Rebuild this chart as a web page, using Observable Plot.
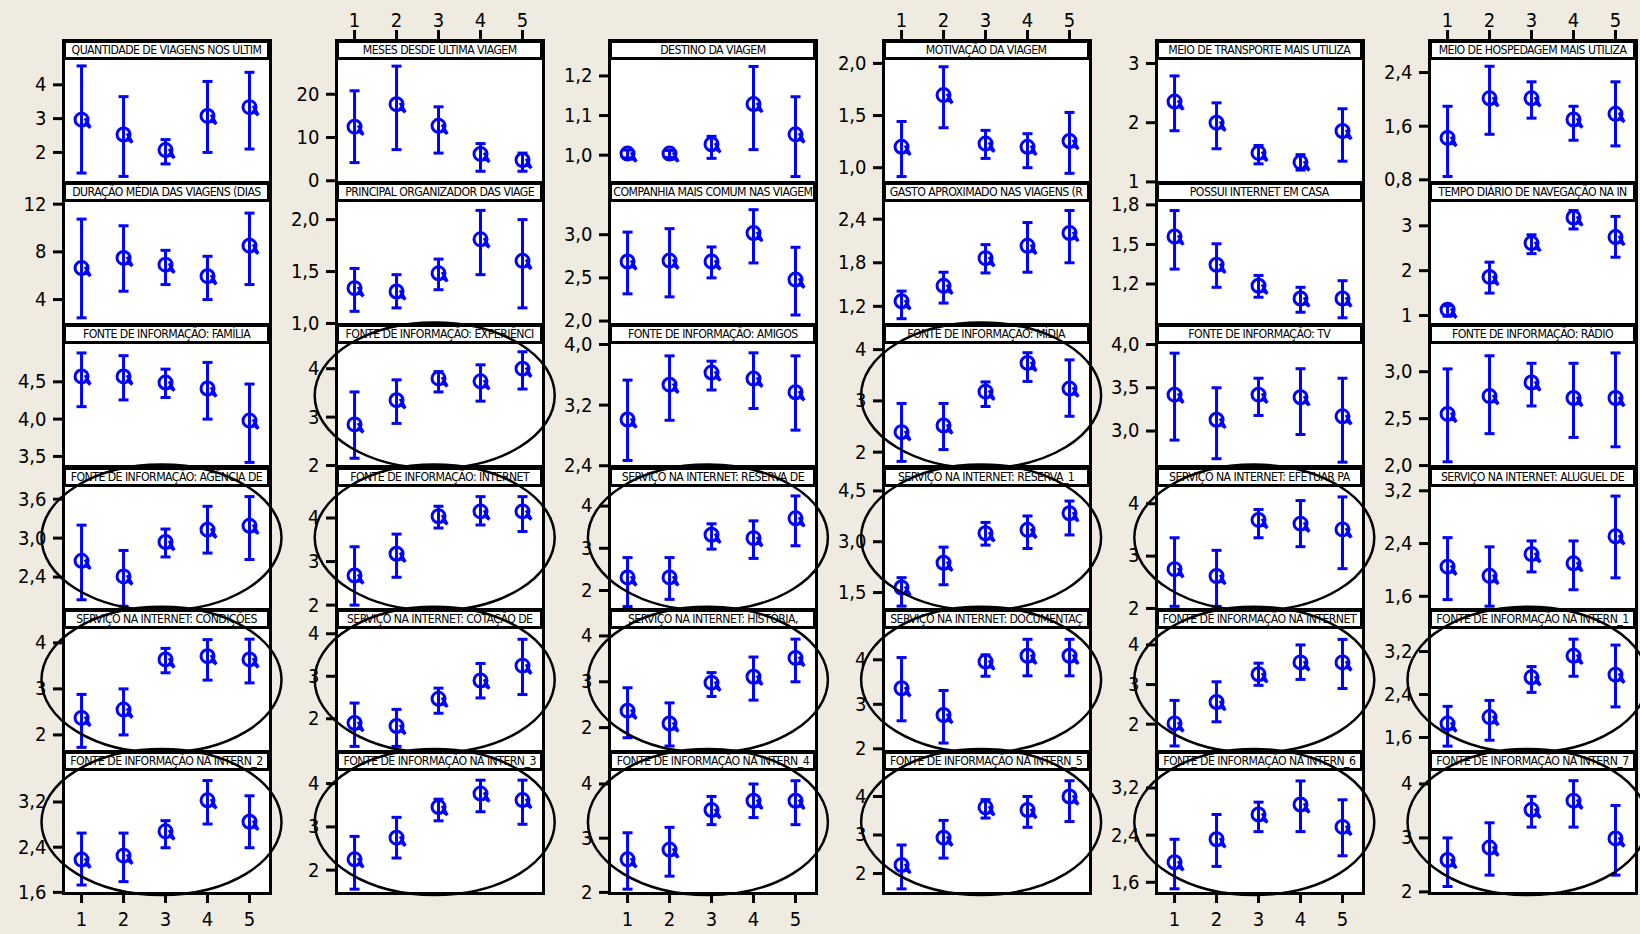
<!DOCTYPE html>
<html><head><meta charset="utf-8">
<script src="https://cdn.jsdelivr.net/npm/d3@7"></script>
<script src="https://cdn.jsdelivr.net/npm/@observablehq/plot@0.6"></script>
<style>
html,body{margin:0;padding:0;background:#efebe1;}
#chart{position:relative;width:1640px;height:934px;background:#efebe1;overflow:hidden;font-family:"DejaVu Sans Condensed","DejaVu Sans",sans-serif;font-stretch:condensed;}
#chart svg{position:absolute;}
.ttl{position:absolute;box-sizing:border-box;border:3px solid #000;background:#fff;display:flex;justify-content:center;align-items:center;overflow:hidden;white-space:nowrap;font-size:12.2px;letter-spacing:-0.55px;color:#000;}
.ttl span{flex:none;}
</style></head><body><div id="chart"></div><script>
const titles = [
 "QUANTIDADE DE VIAGENS NOS ÚLTIM","MESES DESDE ÚLTIMA VIAGEM","DESTINO DA VIAGEM","MOTIVAÇÃO DA VIAGEM","MEIO DE TRANSPORTE MAIS UTILIZA","MEIO DE HOSPEDAGEM MAIS UTILIZA",
 "DURAÇÃO MÉDIA DAS VIAGENS (DIAS","PRINCIPAL ORGANIZADOR DAS VIAGE","COMPANHIA MAIS COMUM NAS VIAGEM","GASTO APROXIMADO NAS VIAGENS (R","POSSUI INTERNET EM CASA","TEMPO DIÁRIO DE NAVEGAÇÃO NA IN",
 "FONTE DE INFORMAÇÃO: FAMÍLIA","FONTE DE INFORMAÇÃO: EXPERIÊNCI","FONTE DE INFORMAÇÃO: AMIGOS","FONTE DE INFORMAÇÃO: MÍDIA","FONTE DE INFORMAÇÃO: TV","FONTE DE INFORMAÇÃO: RÁDIO",
 "FONTE DE INFORMAÇÃO: AGÊNCIA DE","FONTE DE INFORMAÇÃO: INTERNET","SERVIÇO NA INTERNET: RESERVA DE","SERVIÇO NA INTERNET: RESERVA_1","SERVIÇO NA INTERNET: EFETUAR PA","SERVIÇO NA INTERNET: ALUGUEL DE",
 "SERVIÇO NA INTERNET: CONDIÇÕES","SERVIÇO NA INTERNET: COTAÇÃO DE","SERVIÇO NA INTERNET: HISTÓRIA,","SERVIÇO NA INTERNET: DOCUMENTAÇ","FONTE DE INFORMAÇÃO NA INTERNET","FONTE DE INFORMAÇÃO NA INTERN_1",
 "FONTE DE INFORMAÇÃO NA INTERN_2","FONTE DE INFORMAÇÃO NA INTERN_3","FONTE DE INFORMAÇÃO NA INTERN_4","FONTE DE INFORMAÇÃO NA INTERN_5","FONTE DE INFORMAÇÃO NA INTERN_6","FONTE DE INFORMAÇÃO NA INTERN_7"
];
const groups = [1, 2, 3, 4, 5];
const xTickLabels = ["1", "2", "3", "4", "5"];
const means = [
 [2.97,2.53,2.07,3.08,3.34],[12.5,17.7,12.7,6.2,4.8],[1.004,1.004,1.0275,1.129,1.0525],[1.20,1.696,1.231,1.20,1.256],[2.357,2.0,1.49,1.33,1.86],[1.425,2.016,2.016,1.70,1.784],
 [6.65,7.49,6.93,5.96,8.52],[1.34,1.308,1.483,1.81,1.603],[2.69,2.70,2.69,3.02,2.48],[1.27,1.483,1.864,2.033,2.21],[1.56,1.346,1.187,1.09,1.09],[1.13,1.86,2.615,3.185,2.75],
 [4.572,4.572,4.49,4.41,3.98],[2.85,3.35,3.80,3.74,4.0],[3.01,3.47,3.63,3.55,3.37],[2.39,2.52,3.18,3.74,3.24],[3.42,3.13,3.42,3.39,3.17],[2.55,2.74,2.885,2.72,2.72],
 [2.65,2.41,2.94,3.13,3.19],[2.68,3.18,4.04,4.15,4.15],[2.31,2.31,3.32,3.24,3.71],[1.65,2.38,3.25,3.35,3.84],[2.75,2.62,3.69,3.62,3.51],[2.05,1.91,2.24,2.10,2.51],
 [2.37,2.55,3.64,3.71,3.64],[1.9,1.83,2.47,2.9,3.25],[2.37,2.09,2.98,3.11,3.52],[3.36,2.76,3.96,4.09,4.09],[2.02,2.56,3.26,3.56,3.56],[1.86,1.98,2.72,3.12,2.77],
 [2.18,2.25,2.68,3.23,2.85],[2.25,2.75,3.46,3.77,3.62],[2.61,2.79,3.52,3.69,3.69],[2.22,2.93,3.72,3.65,4.0],[1.94,2.33,2.75,2.92,2.54],[2.59,2.82,3.52,3.69,2.99]
];
const lower = [
 [1.39,1.29,1.66,2.0,2.10],[4.2,7.2,6.4,2.2,2.2],[0.993,0.994,0.992,1.014,0.946],[0.915,1.383,1.089,1.0,0.946],[1.864,1.56,1.305,1.2,1.35],[0.85,1.479,1.72,1.39,1.306],
 [2.47,4.70,5.26,4.0,5.26],[1.117,1.15,1.325,1.47,1.15],[2.315,2.28,2.5,2.673,2.07],[1.03,1.245,1.66,1.67,1.8],[1.313,1.175,1.10,0.986,0.944],[0.985,1.5,2.38,2.93,2.30],
 [4.167,4.257,4.29,4.0,3.42],[2.15,2.87,3.52,3.33,3.58],[2.47,3.0,3.40,3.155,2.87],[1.82,2.05,2.89,3.38,2.70],[2.895,2.68,3.18,2.96,2.64],[2.04,2.34,2.635,2.30,2.2],
 [2.05,1.95,2.71,2.77,2.67],[2.0,2.64,3.77,3.84,3.69],[1.62,1.79,2.98,2.76,3.06],[1.1,1.73,2.9,2.8,3.2],[2.04,2.04,3.35,3.18,2.76],[1.55,1.45,1.97,1.70,1.88],
 [1.73,2.0,3.35,3.19,3.13],[1.35,1.35,2.13,2.49,2.57],[1.78,1.6,2.68,2.6,3.0],[2.63,2.13,3.63,3.64,3.64],[1.45,2.06,2.98,3.13,2.9],[1.44,1.55,2.44,2.74,2.17],
 [1.73,1.79,2.39,2.81,2.39],[1.56,2.28,3.14,3.35,3.06],[2.06,2.3,3.25,3.38,3.25],[1.6,2.4,3.44,3.2,3.35],[1.49,1.87,2.46,2.46,2.05],[2.1,2.31,3.2,3.2,2.31]
];
const upper = [
 [4.56,3.65,2.38,4.10,4.37],[20.8,26.5,17.1,8.6,6.4],[1.013,1.012,1.0475,1.224,1.1475],[1.443,1.968,1.358,1.326,1.53],[2.79,2.335,1.615,1.46,2.235],[1.897,2.494,2.262,1.897,2.262],
 [10.75,10.19,8.13,7.63,11.25],[1.53,1.47,1.62,2.089,2.0],[3.03,3.07,2.858,3.29,2.854],[1.41,1.67,2.05,2.354,2.52],[1.757,1.505,1.265,1.175,1.225],[1.22,2.19,2.8,3.34,3.21],
 [4.887,4.85,4.67,4.76,4.47],[3.52,3.77,3.94,4.08,4.35],[3.53,3.85,3.78,3.89,3.85],[2.95,2.95,3.37,3.94,3.80],[3.90,3.5,3.61,3.72,3.61],[3.03,3.17,3.09,3.09,3.2],
 [3.2,2.81,3.14,3.49,3.64],[3.34,3.63,4.27,4.49,4.49],[2.78,2.78,3.58,3.65,4.24],[1.94,2.84,3.57,3.76,4.2],[3.35,3.11,3.89,4.06,4.13],[2.49,2.35,2.44,2.44,3.12],
 [2.88,3.0,3.88,4.07,4.08],[2.37,2.22,2.72,3.3,3.87],[2.87,2.54,3.2,3.54,3.93],[4.05,3.31,4.11,4.46,4.46],[2.6,3.07,3.54,4.0,4.14],[2.18,2.29,2.92,3.43,3.32],
 [2.65,2.65,2.87,3.58,3.31],[2.78,3.22,3.64,4.08,4.08],[3.1,3.2,3.77,4.0,4.06],[2.74,3.38,3.92,4.0,4.41],[2.33,2.75,2.96,3.32,3.0],[3.0,3.28,3.77,4.06,3.6]
];
const yTickLabels = [
 ["2","3","4"],["0","10","20"],["1,0","1,1","1,2"],["1,0","1,5","2,0"],["1","2","3"],["0,8","1,6","2,4"],
 ["4","8","12"],["1,0","1,5","2,0"],["2,0","2,5","3,0"],["1,2","1,8","2,4"],["1,2","1,5","1,8"],["1","2","3"],
 ["3,5","4,0","4,5"],["2","3","4"],["2,4","3,2","4,0"],["2","3","4"],["3,0","3,5","4,0"],["2,0","2,5","3,0"],
 ["2,4","3,0","3,6"],["2","3","4"],["2","3","4"],["1,5","3,0","4,5"],["2","3","4"],["1,6","2,4","3,2"],
 ["2","3","4"],["2","3","4"],["2","3","4"],["2","3","4"],["2","3","4"],["1,6","2,4","3,2"],
 ["1,6","2,4","3,2"],["2","3","4"],["2","3","4"],["2","3","4"],["1,6","2,4","3,2"],["2","3","4"]
];
const yDomains = [
 [1.11,4.72],[-0.4,27.8],[0.931,1.239],[0.858,2.028],[0.99,3.05],[0.76,2.58],
 [1.91,12.14],[0.99,2.165],[1.96,3.373],[0.95,2.63],[0.893,1.818],[0.8,3.52],
 [3.365,5.0],[1.98,4.5],[2.39,4.0],[1.72,4.1],[2.59,4.0],[1.99,3.29],
 [1.9,3.78],[1.9,4.7],[1.55,4.44],[1.0,4.6],[1.98,4.31],[1.4,3.25],
 [1.64,4.29],[1.23,4.1],[1.48,4.14],[1.94,4.68],[1.31,4.39],[1.34,3.61],
 [1.58,3.74],[1.46,4.28],[1.98,4.23],[1.48,4.65],[1.41,3.48],[1.97,4.23]
];
const highlighted = [13, 15, 18, 19, 20, 21, 22, 24, 25, 26, 27, 28, 29, 30, 31, 32, 33, 34, 35];

// layout
const COL0 = 63, COLSTEP = 273.2, BOXW = 207, ROW0 = 40, ROWSTEP = 142.2, PANELH = 142, TITLEH = 20;
const ML = 60, MR = 4;
const BLUE = "#0000ff";
const FONT = '"DejaVu Sans Condensed","DejaVu Sans",sans-serif';

const meanSymbol = {draw(ctx, size) {
  const r = Math.sqrt(size / Math.PI);
  ctx.moveTo(r, 0); ctx.arc(0, 0, r, 0, 2 * Math.PI);
  ctx.moveTo(r * 0.45, r * 0.5); ctx.lineTo(r * 1.35, r * 1.25);
  ctx.moveTo(r * 0.55, -r * 0.2); ctx.lineTo(r * 1.35, r * 1.25);
}};
const capSymbol = {draw(ctx, size) {
  const r = Math.sqrt(size / Math.PI);
  ctx.moveTo(-r, 0); ctx.lineTo(r, 0);
}};

const chart = document.getElementById("chart");
for (let k = 0; k < 36; k++) {
  const r = Math.floor(k / 6), c = k % 6;
  const left = COL0 + c * COLSTEP, top = ROW0 + r * ROWSTEP;
  const topAxis = r === 0 && c % 2 === 1, botAxis = r === 5 && c % 2 === 0;
  const mt = topAxis ? 45 : 2, mb = botAxis ? 45 : 2;
  const data = groups.map((g, i) => ({x: g, m: means[k][i], lo: lower[k][i], hi: upper[k][i]}));
  const tickVals = yTickLabels[k].map(s => +s.replace(",", "."));
  const fmt = new Map(tickVals.map((v, i) => [v, yTickLabels[k][i]]));
  const marks = [
    Plot.frame({fill: "white", stroke: "black", strokeWidth: 3}),
    Plot.axisY(tickVals, {tickSize: 10, tickPadding: 7, tickFormat: d => fmt.get(d), strokeWidth: 3, label: null, fontSize: 20}),
    Plot.ruleX(data, {x: "x", y1: "lo", y2: "hi", stroke: BLUE, strokeWidth: 3}),
    Plot.dot(data, {x: "x", y: "lo", symbol: capSymbol, r: 5, stroke: BLUE, fill: "none", strokeWidth: 3}),
    Plot.dot(data, {x: "x", y: "hi", symbol: capSymbol, r: 5, stroke: BLUE, fill: "none", strokeWidth: 3}),
    Plot.dot(data, {x: "x", y: "m", symbol: meanSymbol, r: 6.5, stroke: BLUE, fill: "none", strokeWidth: 3})
  ];
  const xfmt = new Map(groups.map((g, i) => [g, xTickLabels[i]]));
  if (topAxis) marks.push(Plot.axisX(groups, {anchor: "top", tickSize: 11, tickPadding: 3, tickFormat: d => xfmt.get(d), strokeWidth: 3, label: null, fontSize: 20}));
  if (botAxis) marks.push(Plot.axisX(groups, {anchor: "bottom", tickSize: 10, tickPadding: 8, tickFormat: d => xfmt.get(d), strokeWidth: 3, label: null, fontSize: 20}));
  const xOpts = {domain: [0.57, 5.5], label: null};
  if (!topAxis && !botAxis) xOpts.axis = null;
  const svg = Plot.plot({
    width: ML + BOXW + MR, height: mt + PANELH + mb,
    marginLeft: ML, marginRight: MR, marginTop: mt, marginBottom: mb,
    x: xOpts,
    y: {domain: yDomains[k], range: [mt + PANELH, mt + TITLEH], label: null},
    style: {background: "transparent", overflow: "visible", fontFamily: FONT, fontSize: "20px", color: "black"},
    marks
  });
  svg.style.left = (left - ML) + "px";
  svg.style.top = (top - mt) + "px";
  chart.appendChild(svg);
  const t = document.createElement("div");
  t.className = "ttl";
  t.style.left = left + "px"; t.style.top = top + "px";
  t.style.width = BOXW + "px"; t.style.height = TITLEH + "px";
  const sp = document.createElement("span"); sp.textContent = titles[k];
  t.appendChild(sp);
  chart.appendChild(t);
}
const ov = d3.select(chart).append("svg")
  .attr("width", 1640).attr("height", 934)
  .style("left", "0px").style("top", "0px").style("pointer-events", "none");
ov.selectAll("ellipse").data(highlighted).join("ellipse")
  .attr("cx", k => COL0 + (k % 6) * COLSTEP + BOXW / 2 - 5)
  .attr("cy", k => ROW0 + Math.floor(k / 6) * ROWSTEP + PANELH / 2)
  .attr("rx", 120).attr("ry", 73)
  .attr("fill", "none").attr("stroke", "#000").attr("stroke-width", 2.5);
</script></body></html>
